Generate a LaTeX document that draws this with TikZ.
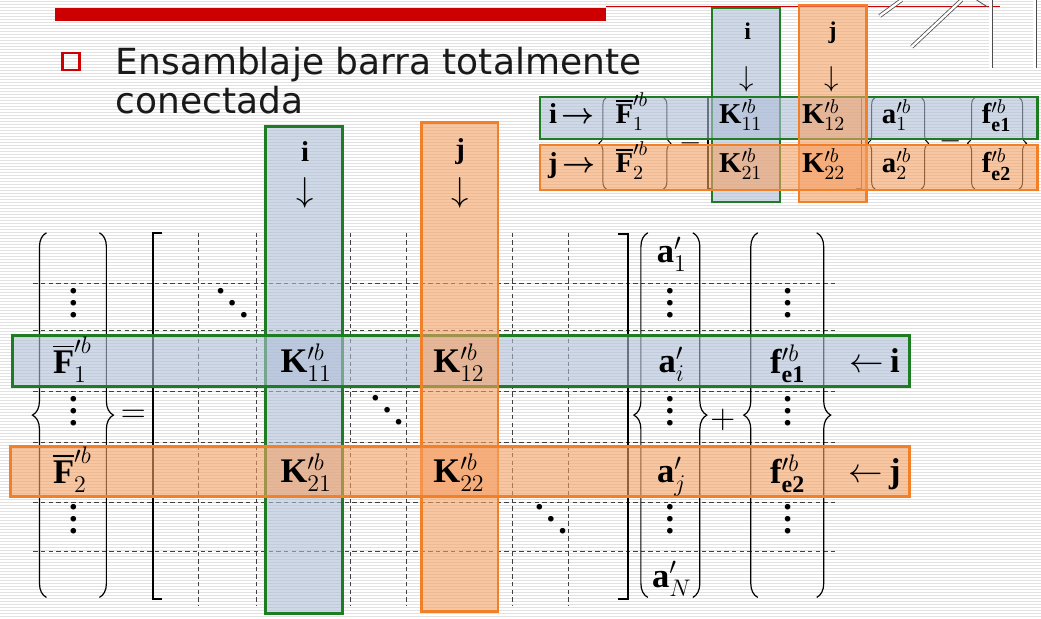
\documentclass[tikz,border=0pt]{standalone}
\usepackage{amsmath}
\usepackage{fontspec}
\setmainfont{Liberation Serif}
\newfontfamily\headfont{DejaVu Sans}
\usepackage{xcolor}
\usepackage{tikz}
\usetikzlibrary{positioning, calc, decorations.pathreplacing}
\definecolor{igreen}{RGB}{30,125,35}
\definecolor{ifill}{RGB}{175,190,215}
\definecolor{jorange}{RGB}{242,128,40}
\definecolor{jfill}{RGB}{245,160,100}
\definecolor{slidered}{RGB}{204,0,0}
\definecolor{stripe}{RGB}{226,226,226}
\newcommand{\vdts}{\vbox{\baselineskip=6pt\lineskiplimit=0pt\hbox{\textbf{.}}\hbox{\textbf{.}}\hbox{\textbf{.}}}}
\newcommand{\ddts}{\hbox{\raisebox{12pt}{\textbf{.}}\kern1.5pt\raisebox{6pt}{\textbf{.}}\kern1.5pt\textbf{.}}}

\begin{document}
\begin{tikzpicture}[x=0.5pt, y=-0.5pt,
    ibox/.style={draw=igreen, line width=1.4pt, fill=ifill, fill opacity=0.6},
    jbox/.style={draw=jorange, line width=1.4pt, fill=jfill, fill opacity=0.6},
    cell/.style={draw=black!75, line width=0.45pt, dash pattern=on 2.2pt off 1.6pt},
    vbrace/.style={decorate, decoration={brace, amplitude=7pt}, line width=0.6pt},
    sbrace/.style={decorate, decoration={brace, amplitude=4pt}, line width=0.5pt},
    bigent/.style={font=\LARGE, inner sep=0pt, anchor=base},
    smallent/.style={font=\Large, inner sep=0pt, anchor=base},
    dbl/.style={draw=black!70, double=white, double distance=1.2pt, line width=0.4pt},
]
    % slide background
    \fill[white] (0,0) rectangle (1041,619);
    \foreach \s in {2,5,...,617}
        \draw[stripe, line width=0.5pt] (0,\s) -- (1041,\s);
    \useasboundingbox (0,0) rectangle (1041,619);

    % title bar and corner lines
    \fill[slidered] (55,8) rectangle (606,21);
    \draw[slidered, line width=0.5pt] (606,7) -- (1000,7);
    \draw[dbl] (880,16) -- (902,0);
    \draw[dbl] (912,47) -- (962,0);
    \draw[black!70, line width=0.4pt] (977,0) -- (988,7);
    \draw[dbl] (991,0) -- (991,68);
    \draw[dbl] (1035,0) -- (1035,68);

    % heading
    \node[draw=slidered, line width=1.3pt, minimum size=8.5pt, inner sep=0pt] (bullet) at (70.5,61.5) {};
    \node[anchor=base west, inner sep=0pt, font=\headfont\fontsize{18}{22}\selectfont, text=black!90] (title1) at (115,75) {Ensamblaje barra totalmente};
    \node[anchor=base west, inner sep=0pt, font=\headfont\fontsize{18}{22}\selectfont, text=black!90] (title2) at (115,114) {conectada};

    % global system: grid, braces, brackets
    \foreach \y in {284,331,392,443,503,552}
        \draw[cell] (33,\y) -- (838,\y);
    \foreach \x in {198,256,350,406,512,568}
        \draw[cell] (\x,233) -- (\x,607);
    \draw[vbrace] (46,598) -- (46,233);
    \draw[vbrace] (99,233) -- (99,598);
    \draw[vbrace] (648,598) -- (648,233);
    \draw[vbrace] (693,233) -- (693,598);
    \draw[vbrace] (758,598) -- (758,233);
    \draw[vbrace] (817,233) -- (817,598);
    \draw[line width=1pt] (162,233) -- (153,233) -- (153,600) -- (162,600);
    \draw[line width=1pt] (618,234) -- (628,234) -- (628,600) -- (618,600);

    % rows and columns of node i and j
    \draw[ibox] (265,127) rectangle (342,614);
    \draw[ibox] (12,336) rectangle (910,387);
    \draw[jbox] (421,123) rectangle (498,612);
    \draw[jbox] (10,447) rectangle (910,497);

    \node[font=\Large\bfseries] (ci) at (305,152) {i};
    \node[font=\LARGE] (dni) at (305,193) {$\downarrow$};
    \node[font=\Large\bfseries] (cj) at (460,152) {j};
    \node[font=\LARGE] (dnj) at (460,193) {$\downarrow$};

    \node[bigent] (F1) at (72,374) {$\overline{\mathbf{F}}'^{b}_{1}$};
    \node[bigent] (F2) at (72,484) {$\overline{\mathbf{F}}'^{b}_{2}$};
    \node[font=\LARGE] (eq) at (133,417) {$=$};
    \node[bigent] (K11) at (306,373) {$\mathbf{K}'^{b}_{11}$};
    \node[bigent] (K12) at (459,373) {$\mathbf{K}'^{b}_{12}$};
    \node[bigent] (K21) at (306,483) {$\mathbf{K}'^{b}_{21}$};
    \node[bigent] (K22) at (459,483) {$\mathbf{K}'^{b}_{22}$};
    \node[bigent] (dd1) at (232,318) {\ddts};
    \node[bigent] (dd2) at (387,425) {\ddts};
    \node[bigent] (dd3) at (551,534) {\ddts};
    \node[bigent] (a1) at (672,263) {$\mathbf{a}'_{1}$};
    \node[bigent] (ai) at (672,373) {$\mathbf{a}'_{i}$};
    \node[bigent] (aj) at (672,483) {$\mathbf{a}'_{j}$};
    \node[bigent] (aN) at (672,588) {$\mathbf{a}'_{N}$};
    \node[font=\LARGE] (plus) at (723,420) {$+$};
    \node[bigent] (fe1) at (788,374) {$\mathbf{f}'^{b}_{\mathbf{e1}}$};
    \node[bigent] (fe2) at (788,484) {$\mathbf{f}'^{b}_{\mathbf{e2}}$};
    \foreach \y [count=\n] in {318,426,534} {
        \node[bigent] (Fd\n) at (73,\y) {\vdts};
        \node[bigent] (ad\n) at (670,\y) {\vdts};
        \node[bigent] (fd\n) at (788,\y) {\vdts};
    }
    \node[bigent] (ri) at (875,373) {$\leftarrow$\,\textbf{i}};
    \node[bigent] (rj) at (875,483) {$\leftarrow$\,\textbf{j}};

    % element equation (top right)
    \draw[sbrace] (607,190) -- (607,97);
    \draw[sbrace] (663,97) -- (663,190);
    \draw[sbrace] (876,190) -- (876,97);
    \draw[sbrace] (921,97) -- (921,190);
    \draw[sbrace] (976,190) -- (976,97);
    \draw[sbrace] (1019,97) -- (1019,190);
    \draw[line width=0.7pt] (713,97) -- (708,97) -- (708,189) -- (713,189);
    \draw[line width=0.7pt] (856,97) -- (862,97) -- (862,189) -- (856,189);
    \node[font=\Large] (seq) at (691,143) {$-$};
    \node[font=\Large] (splus) at (951,141) {$-$};

    \draw[ibox, line width=1.2pt] (712,8) rectangle (780,202);
    \draw[ibox, line width=1.2pt] (540,97) rectangle (1038,139);
    \draw[jbox, line width=1.2pt] (799,5) rectangle (867,202);
    \draw[jbox, line width=1.2pt] (540,145) rectangle (1038,190);

    \node[font=\large\bfseries] (sci) at (748,31) {i};
    \node[font=\Large] (sdni) at (747,79) {$\downarrow$};
    \node[font=\large\bfseries] (scj) at (833,33) {j};
    \node[font=\Large] (sdnj) at (832,79) {$\downarrow$};

    \node[smallent] (si) at (572,124) {\textbf{i}\,$\boldsymbol{\rightarrow}$};
    \node[smallent] (sj) at (572,173) {\textbf{j}\,$\boldsymbol{\rightarrow}$};
    \node[smallent] (sF1) at (632,124) {$\overline{\mathbf{F}}'^{b}_{1}$};
    \node[smallent] (sF2) at (632,173) {$\overline{\mathbf{F}}'^{b}_{2}$};
    \node[smallent] (sK11) at (741,124) {$\mathbf{K}'^{b}_{11}$};
    \node[smallent] (sK12) at (824,124) {$\mathbf{K}'^{b}_{12}$};
    \node[smallent] (sK21) at (741,173) {$\mathbf{K}'^{b}_{21}$};
    \node[smallent] (sK22) at (824,173) {$\mathbf{K}'^{b}_{22}$};
    \node[smallent] (sa1) at (897,124) {$\mathbf{a}'^{b}_{1}$};
    \node[smallent] (sa2) at (897,173) {$\mathbf{a}'^{b}_{2}$};
    \node[smallent] (sf1) at (997,124) {$\mathbf{f}'^{b}_{\mathbf{e1}}$};
    \node[smallent] (sf2) at (997,173) {$\mathbf{f}'^{b}_{\mathbf{e2}}$};
\end{tikzpicture}
\end{document}
